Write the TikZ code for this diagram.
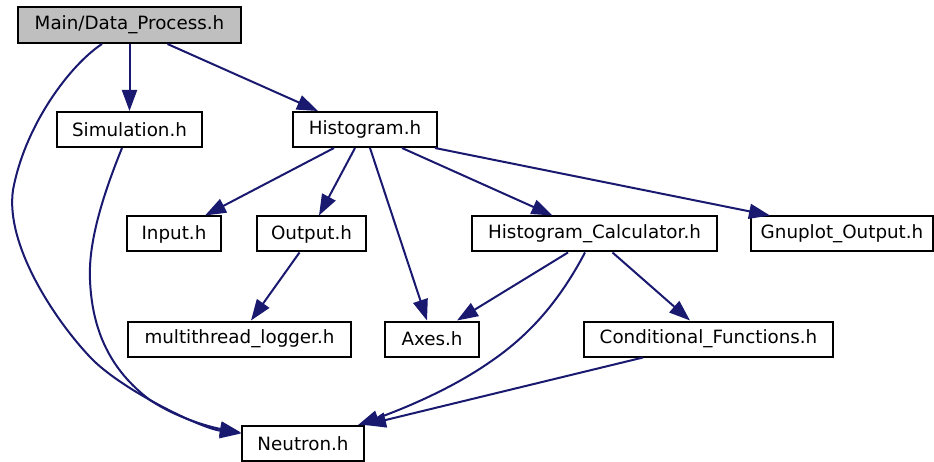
\documentclass[tikz,border=0pt]{standalone}
\usepackage{fontspec}
\setmainfont{DejaVu Sans}
\usetikzlibrary{arrows.meta}
\definecolor{edgeblue}{HTML}{191970}
\definecolor{mainfill}{HTML}{BFBFBF}
\begin{document}
\begin{tikzpicture}[x=1pt,y=-1pt,
  file/.style={draw=black, line width=2pt, rectangle, minimum height=35pt,
    inner sep=0pt, fill=white, font=\fontsize{18.3}{22}\selectfont},
  dep/.style={draw=edgeblue, line width=2pt,
    -{Triangle[length=21pt,width=15pt,color=edgeblue]}},
]
\useasboundingbox (0,0) rectangle (934,462);

% header files
\node[file, fill=mainfill, minimum width=223pt, minimum height=36pt] (main) at (129.5,25) {Main/Data\_Process.h};
\node[file, minimum width=145pt] (sim) at (129.5,129.5) {Simulation.h};
\node[file, minimum width=144pt] (hist) at (365,129.5) {Histogram.h};
\node[file, minimum width=94pt]  (input) at (174,234) {Input.h};
\node[file, minimum width=109pt] (output) at (311.5,234) {Output.h};
\node[file, minimum width=245pt] (hcalc) at (594.5,234) {Histogram\_Calculator.h};
\node[file, minimum width=182pt] (gnu) at (842,234) {Gnuplot\_Output.h};
\node[file, minimum width=223pt] (mlog) at (239.5,339) {multithread\_logger.h};
\node[file, minimum width=94pt]  (axes) at (432,339) {Axes.h};
\node[file, minimum width=249pt] (cond) at (708.5,339) {Conditional\_Functions.h};
\node[file, minimum width=122pt] (neutron) at (303,443.5) {Neutron.h};

% include dependencies
\draw[dep] (main.south) -- (sim.north);
\draw[dep] ([xshift=38pt]main.south) -- ([xshift=-47pt]hist.north);
\draw[dep] ([xshift=-27.5pt]main.south)
  .. controls (70,65) and (25,125) .. (13,190)
  .. controls (5,245) and (55,320) .. (90,357)
  .. controls (120,389) and (200,428) .. ([yshift=10pt]neutron.west);
\draw[dep] ([xshift=-7.5pt]sim.south)
  .. controls (105,190) and (88,240) .. (90,280)
  .. controls (92,330) and (110,370) .. (150,400)
  .. controls (180,420) and (215,428) .. ([yshift=11pt]neutron.west);

\draw[dep] ([xshift=-31pt]hist.south) -- ([xshift=31pt]input.north);
\draw[dep] ([xshift=-10pt]hist.south) -- ([xshift=7.5pt]output.north);
\draw[dep] ([xshift=5pt]hist.south) -- ([xshift=-5pt]axes.north);
\draw[dep] ([xshift=37pt]hist.south) -- ([xshift=-42pt]hcalc.north);
\draw[dep] ([xshift=70pt]hist.south) -- ([xshift=-72pt]gnu.north);

\draw[dep] ([xshift=-12pt]output.south) -- ([xshift=11.5pt]mlog.north);

\draw[dep] ([xshift=-26.5pt]hcalc.south) -- ([xshift=25pt]axes.north);
\draw[dep] ([xshift=18pt]hcalc.south) -- ([xshift=-18.5pt]cond.north);
\draw[dep] ([xshift=-9.5pt]hcalc.south)
  .. controls (560,300) and (530,335) .. (490,362)
  .. controls (450,390) and (400,410) .. ([xshift=-7pt]neutron.north east);
\draw[dep] ([xshift=-65.5pt]cond.south) -- (neutron.north east);
\end{tikzpicture}
\end{document}
